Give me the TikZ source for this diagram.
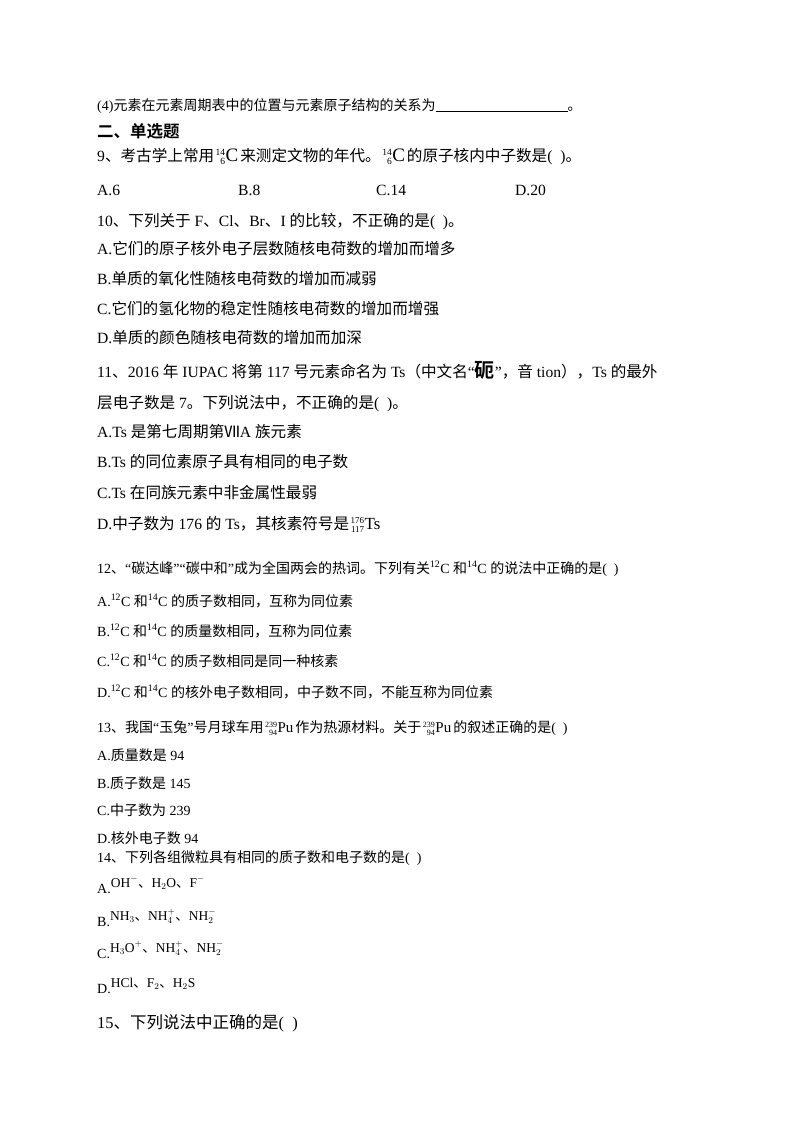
\documentclass[tikz,border=0pt]{standalone}
\usepackage{fontspec}
\setmainfont{Liberation Serif}
\newfontfamily\cjk[BoldFont={Noto Sans CJK SC Bold}]{Noto Sans CJK SC}
\newcommand\latinf{\rmfamily}
\XeTeXinterchartokenstate=1
\newXeTeXintercharclass\cjkclass
\newcount\cc
\cc="4E00 \loop\XeTeXcharclass\cc=\cjkclass \advance\cc 1 \ifnum\cc<"A000 \repeat
\cc="3000 \loop\XeTeXcharclass\cc=\cjkclass \advance\cc 1 \ifnum\cc<"3040 \repeat
\cc="FF00 \loop\XeTeXcharclass\cc=\cjkclass \advance\cc 1 \ifnum\cc<"FFF0 \repeat
\XeTeXcharclass"2166=\cjkclass
\XeTeXinterchartoks 0 \cjkclass = {\cjk}
\XeTeXinterchartoks 4095 \cjkclass = {\cjk}
\XeTeXinterchartoks \cjkclass 0 = {\latinf}
\XeTeXinterchartoks \cjkclass 4095 = {\latinf}
\newcommand\nuc[4]{\hspace{1.5pt}\raisebox{-3pt}{\fontsize{#4}{#4}\selectfont\shortstack[r]{#1\\[-0.5pt]#2}}\hspace{0.5pt}{#3}\hspace{2pt}}
\tikzset{ln/.style={anchor=base west,inner sep=0pt,font=\fontsize{15.6}{18}\selectfont},
  sm/.style={anchor=base west,inner sep=0pt,font=\fontsize{14}{16}\selectfont}}
\begin{document}
\begin{tikzpicture}[x=1pt,y=-1pt]
\useasboundingbox[fill=white] (0,0) rectangle (800,1132);
\node[sm] (l4) at (97,110) {(4)元素在元素周期表中的位置与元素原子结构的关系为\underline{\hspace{132pt}}。};
\node[anchor=base west,inner sep=0pt,font=\fontsize{16.5}{18}\selectfont\bfseries] (h2) at (97,137) {二、单选题};
\node[ln] (q9) at (97,161) {9、考古学上常用\nuc{14}{6}{\fontsize{19}{19}\selectfont C}{9.5}来测定文物的年代。\nuc{14}{6}{\fontsize{19}{19}\selectfont C}{9.5}的原子核内中子数是(\ \ )。};
\node[ln] (q9a) at (97,195) {A.6};
\node[ln] (q9b) at (238,195) {B.8};
\node[ln] (q9c) at (376,195) {C.14};
\node[ln] (q9d) at (515,195) {D.20};
\node[ln] (q10) at (97,226) {10、下列关于 F、Cl、Br、I 的比较，不正确的是(\ \ )。};
\node[ln] (q10a) at (97,254) {A.它们的原子核外电子层数随核电荷数的增加而增多};
\node[ln] (q10b) at (97,284) {B.单质的氧化性随核电荷数的增加而减弱};
\node[ln] (q10c) at (97,314) {C.它们的氢化物的稳定性随核电荷数的增加而增强};
\node[ln] (q10d) at (97,343) {D.单质的颜色随核电荷数的增加而加深};
\node[ln] (q11) at (97,377) {11、2016 年 IUPAC 将第 117 号元素命名为 Ts（中文名“{\cjk\bfseries\fontsize{20}{20}\selectfont 砈}”，音 tion），Ts 的最外};
\node[ln] (q11b) at (97,408) {层电子数是 7。下列说法中，不正确的是(\ \ )。};
\node[ln] (q11a1) at (97,437) {A.Ts 是第七周期第{\cjk Ⅶ}A 族元素};
\node[ln] (q11a2) at (97,467) {B.Ts 的同位素原子具有相同的电子数};
\node[ln] (q11a3) at (97,498) {C.Ts 在同族元素中非金属性最弱};
\node[ln] (q11a4) at (97,529) {D.中子数为 176 的 Ts，其核素符号是\nuc{176}{117}{\fontsize{17}{17}\selectfont Ts}{9}};
\node[sm] (q12) at (97,573) {12、“碳达峰”“碳中和”成为全国两会的热词。下列有关\textsuperscript{12}C 和\textsuperscript{14}C 的说法中正确的是(\ \ )};
\node[sm] (q12a) at (97,606) {A.\textsuperscript{12}C 和\textsuperscript{14}C 的质子数相同，互称为同位素};
\node[sm] (q12b) at (97,636) {B.\textsuperscript{12}C 和\textsuperscript{14}C 的质量数相同，互称为同位素};
\node[sm] (q12c) at (97,666) {C.\textsuperscript{12}C 和\textsuperscript{14}C 的质子数相同是同一种核素};
\node[sm] (q12d) at (97,697) {D.\textsuperscript{12}C 和\textsuperscript{14}C 的核外电子数相同，中子数不同，不能互称为同位素};
\node[sm] (q13) at (97,732) {13、我国“玉兔”号月球车用\nuc{239}{94}{\fontsize{15}{15}\selectfont Pu}{8}作为热源材料。关于\nuc{239}{94}{\fontsize{15}{15}\selectfont Pu}{8}的叙述正确的是(\ \ )};
\node[sm] (q13a) at (97,760) {A.质量数是 94};
\node[sm] (q13b) at (97,788) {B.质子数是 145};
\node[sm] (q13c) at (97,815) {C.中子数为 239};
\node[sm] (q13d) at (97,843) {D.核外电子数 94};
\node[sm] (q14) at (97,862) {14、下列各组微粒具有相同的质子数和电子数的是(\ \ )};
\node[sm] (q14a) at (97,893) {A.\raisebox{6pt}{\fontsize{13.5}{14}\selectfont OH$^-$、H$_2$O、F$^-$}};
\node[sm] (q14b) at (97,926) {B.\raisebox{6pt}{\fontsize{13.5}{14}\selectfont NH$_3$、NH$_4^+$、NH$_2^-$}};
\node[sm] (q14c) at (97,958) {C.\raisebox{6pt}{\fontsize{13.5}{14}\selectfont H$_3$O$^+$、NH$_4^+$、NH$_2^-$}};
\node[sm] (q14d) at (97,993) {D.\raisebox{6pt}{\fontsize{13.5}{14}\selectfont HCl、F$_2$、H$_2$S}};
\node[ln,font=\fontsize{16.5}{18}\selectfont] (q15) at (97,1028) {15、下列说法中正确的是(\ \ )};
\end{tikzpicture}
\end{document}
